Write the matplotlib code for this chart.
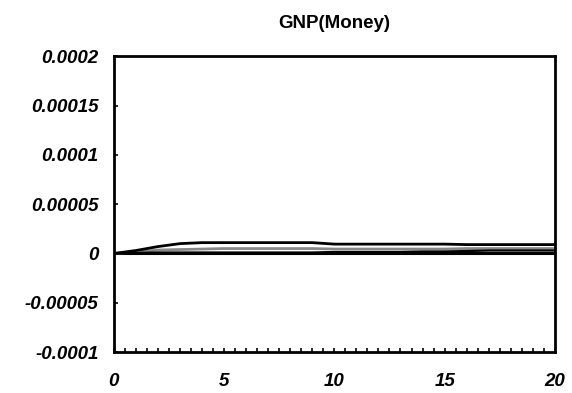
import numpy as np
import matplotlib.pyplot as plt
from matplotlib.ticker import MultipleLocator

# impulse response: GNP to money shock
periods = list(range(21))
upper = [0, 0.3e-5, 0.7e-5, 1.0e-5, 1.1e-5, 1.1e-5, 1.1e-5, 1.1e-5, 1.1e-5, 1.1e-5,
         0.95e-5, 0.95e-5, 0.95e-5, 0.95e-5, 0.95e-5, 0.95e-5, 0.9e-5, 0.9e-5,
         0.9e-5, 0.9e-5, 0.9e-5]
middle = [0, 0.15e-5, 0.35e-5, 0.4e-5, 0.45e-5, 0.5e-5, 0.5e-5, 0.5e-5, 0.5e-5, 0.5e-5,
          0.45e-5, 0.45e-5, 0.45e-5, 0.45e-5, 0.45e-5, 0.45e-5, 0.5e-5, 0.5e-5,
          0.5e-5, 0.5e-5, 0.5e-5]
lower = [0, 0.05e-5, 0.1e-5, 0.1e-5, 0.1e-5, 0.1e-5, 0.1e-5, 0.1e-5, 0.1e-5, 0.1e-5,
         0.15e-5, 0.15e-5, 0.15e-5, 0.15e-5, 0.2e-5, 0.2e-5, 0.25e-5, 0.3e-5,
         0.3e-5, 0.3e-5, 0.3e-5]
yticks = [-0.0001, -0.00005, 0, 0.00005, 0.0001, 0.00015, 0.0002]
ylabels = ["-0.0001", "-0.00005", "0", "0.00005", "0.0001", "0.00015", "0.0002"]
xticks = [0, 5, 10, 15, 20]

plt.rcParams['font.family'] = ['Liberation Sans', 'DejaVu Sans']

fig = plt.figure(figsize=(5.72, 3.93), dpi=100)
ax = fig.add_axes([0.199, 0.104, 0.771, 0.753])

ax.axhline(0, color="black", lw=2.2, zorder=1)
ax.plot(periods, upper, color="black", lw=2.0, zorder=3)
ax.plot(periods, middle, color="#888888", lw=2.0, zorder=2)
ax.plot(periods, lower, color="black", lw=1.6, zorder=3)

ax.set_xlim(0, 20)
ax.set_ylim(-0.0001, 0.0002)
ax.set_yticks(yticks)
ax.set_yticklabels(ylabels)
ax.set_xticks(xticks)
ax.xaxis.set_minor_locator(MultipleLocator(0.5))

for lbl in ax.get_xticklabels() + ax.get_yticklabels():
    lbl.set_fontweight("bold")
    lbl.set_fontstyle("italic")
    lbl.set_fontsize(13.5)

ax.tick_params(axis="y", direction="in", length=3, width=1.2, pad=11)
ax.tick_params(axis="x", which="both", direction="in", length=3, width=1.2, pad=15)
for s in ax.spines.values():
    s.set_linewidth(2.0)

ax.set_title("GNP(Money)", fontsize=13.5, fontweight="bold", pad=20)

fig.savefig("out.png", dpi=100)
